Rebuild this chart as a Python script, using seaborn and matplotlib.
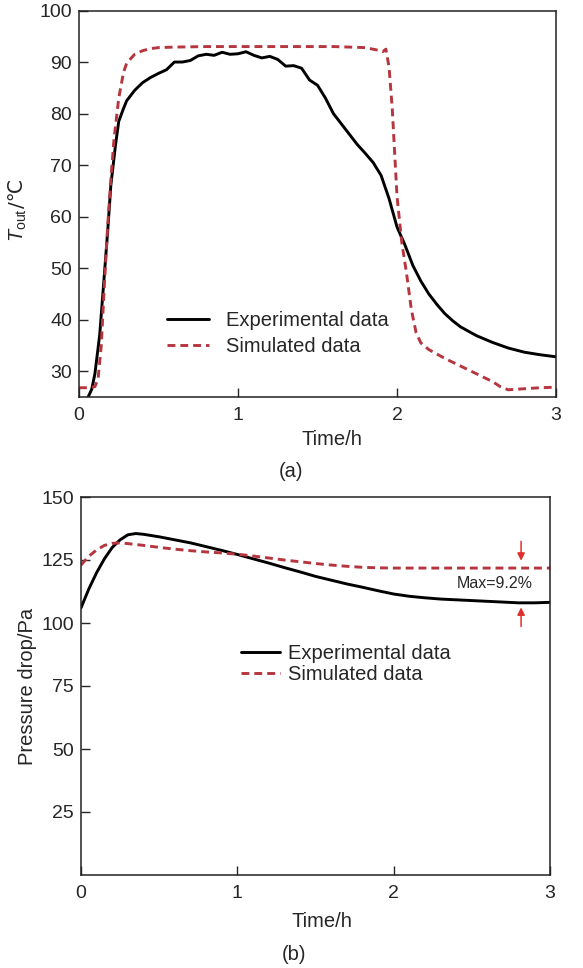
import numpy as np
import pandas as pd
import matplotlib
matplotlib.use("Agg")
import matplotlib.pyplot as plt
import seaborn as sns

# ---- Panel (a): outlet temperature ----
time_a_exp = [0.05, 0.08, 0.10, 0.13, 0.15, 0.18, 0.20, 0.23, 0.25, 0.28, 0.30, 0.35, 0.40, 0.45, 0.50,
              0.55, 0.60, 0.65, 0.70, 0.75, 0.80, 0.85, 0.90, 0.95, 1.00, 1.05, 1.10, 1.15, 1.20,
              1.25, 1.30, 1.35, 1.40, 1.45, 1.50, 1.55, 1.60, 1.65, 1.70, 1.75, 1.80, 1.85, 1.90,
              1.95, 2.00, 2.05, 2.10, 2.15, 2.20, 2.25, 2.30, 2.35, 2.40, 2.50, 2.60, 2.70, 2.80,
              2.90, 3.00]
temp_exp = [24.5, 26.5, 29.5, 37.0, 45.0, 57.0, 66.0, 74.0, 78.5, 81.0, 82.5, 84.5, 86.0, 87.0, 87.8,
            88.5, 90.0, 90.0, 90.3, 91.2, 91.5, 91.3, 91.9, 91.5, 91.6, 92.0, 91.3, 90.8, 91.1,
            90.5, 89.2, 89.3, 88.8, 86.5, 85.5, 83.0, 80.0, 78.0, 76.0, 74.0, 72.3, 70.5, 68.0,
            63.5, 58.0, 54.5, 50.5, 47.5, 45.0, 43.0, 41.2, 39.8, 38.6, 36.9, 35.6, 34.5, 33.7,
            33.2, 32.8]

time_a_sim = [0.00, 0.05, 0.10, 0.12, 0.14, 0.16, 0.18, 0.20, 0.22, 0.25, 0.28, 0.30, 0.35, 0.40,
              0.45, 0.50, 0.60, 0.80, 1.00, 1.20, 1.40, 1.60, 1.80, 1.88, 1.91, 1.93, 1.95,
              1.97, 2.00, 2.03, 2.06, 2.09, 2.12, 2.15, 2.20, 2.30, 2.40, 2.50, 2.60, 2.65,
              2.70, 2.80, 2.90, 3.00]
temp_sim = [26.8, 26.8, 27.0, 28.5, 35.0, 47.0, 58.0, 67.0, 75.0, 83.0, 88.0, 89.8, 91.5, 92.2,
            92.6, 92.8, 92.9, 93.0, 93.0, 93.0, 93.0, 93.0, 92.8, 92.3, 92.0, 92.5, 89.0,
            81.0, 64.0, 55.0, 49.0, 42.0, 37.5, 35.5, 34.2, 32.5, 31.0, 29.5, 28.0, 27.0,
            26.4, 26.6, 26.8, 26.9]

# ---- Panel (b): pressure drop ----
time_b_exp = [0.00, 0.05, 0.10, 0.15, 0.20, 0.25, 0.30, 0.35, 0.40, 0.50, 0.60, 0.70, 0.80, 0.90,
              1.00, 1.10, 1.20, 1.30, 1.40, 1.50, 1.60, 1.70, 1.80, 1.90, 2.00, 2.10, 2.20,
              2.30, 2.40, 2.50, 2.60, 2.70, 2.80, 2.90, 3.00]
press_exp = [106.0, 113.5, 120.0, 125.5, 130.0, 133.0, 135.0, 135.5, 135.2, 134.2, 133.0, 131.8, 130.3, 128.8,
             127.2, 125.5, 123.8, 122.0, 120.3, 118.5, 117.0, 115.5, 114.2, 112.8, 111.5, 110.6, 110.0,
             109.5, 109.2, 108.9, 108.6, 108.3, 108.0, 108.0, 108.2]

time_b_sim = [0.00, 0.05, 0.10, 0.15, 0.20, 0.25, 0.30, 0.40, 0.50, 0.60, 0.70, 0.80, 0.90, 1.00,
              1.10, 1.20, 1.30, 1.40, 1.50, 1.60, 1.70, 1.80, 1.90, 2.00, 2.20, 2.50, 2.80, 3.00]
press_sim = [123.0, 126.5, 129.0, 130.8, 131.6, 131.8, 131.5, 130.8, 130.0, 129.3, 128.7, 128.2, 127.8, 127.3,
             126.6, 125.8, 125.0, 124.3, 123.6, 123.0, 122.5, 122.1, 121.9, 121.8, 121.8, 121.8, 121.8, 121.8]

x_ticks = [0, 1, 2, 3]
a_yticks = [30, 40, 50, 60, 70, 80, 90, 100]
b_yticks = [25, 50, 75, 100, 125, 150]
labels = ["Experimental data", "Simulated data"]
max_dev_text = "Max=9.2%"
arrow_x = 2.815

sns.set_style("ticks")
plt.rcParams['font.family'] = ['Liberation Sans', 'DejaVu Sans']
plt.rcParams['mathtext.fontset'] = 'custom'
plt.rcParams['mathtext.it'] = 'Liberation Sans:italic'
plt.rcParams['mathtext.rm'] = 'Liberation Sans'

RED = "#b5363f"
DASH = (0, (2.7, 1.7))
LW = 2.1
fig = plt.figure(figsize=(5.83, 9.68), dpi=100)
W, H = 583.0, 968.0
ax1 = fig.add_axes([79 / W, 1 - 397 / H, 477 / W, 386.5 / H])
ax2 = fig.add_axes([81 / W, 1 - 875 / H, 469 / W, 378 / H])

df_a_exp = pd.DataFrame({"t": time_a_exp, "v": temp_exp})
df_a_sim = pd.DataFrame({"t": time_a_sim, "v": temp_sim})
df_b_exp = pd.DataFrame({"t": time_b_exp, "v": press_exp})
df_b_sim = pd.DataFrame({"t": time_b_sim, "v": press_sim})

sns.lineplot(data=df_a_exp, x="t", y="v", ax=ax1, color="black", lw=LW, label=labels[0])
sns.lineplot(data=df_a_sim, x="t", y="v", ax=ax1, color=RED, lw=LW, label=labels[1])
ax1.lines[1].set_linestyle(DASH)
sns.lineplot(data=df_b_exp, x="t", y="v", ax=ax2, color="black", lw=LW, label=labels[0])
sns.lineplot(data=df_b_sim, x="t", y="v", ax=ax2, color=RED, lw=LW, label=labels[1])
ax2.lines[1].set_linestyle(DASH)

tfs = 14
lfs = 14.5
for ax in (ax1, ax2):
    ax.set_xlim(0, 3)
    ax.set_xticks(x_ticks)
    ax.tick_params(direction="in", labelsize=tfs, length=6.5, width=1, top=False, right=False)
    ax.tick_params(axis="x", pad=7)
    ax.tick_params(axis="y", pad=5)
    ax.set_xlabel("Time/h", fontsize=lfs)
    ax.xaxis.label.set_va("center")
    for s in ax.spines.values():
        s.set_linewidth(1.1)
        s.set_color("#222222")

ax1.set_ylim(25, 100)
ax1.set_yticks(a_yticks)
ax1.set_ylabel("")
# y label built from two text pieces so that the ℃ sign falls back to DejaVu Sans
ylab_T = fig.text(0, 0, r"$T_\mathrm{out}$", fontsize=lfs, rotation=90, ha="center", va="bottom",
                  transform=ax1.transAxes)
ylab_T.set_position((-0.128, 0.40))
ylab_C = fig.text(0, 0, "/℃", fontsize=lfs, rotation=90, ha="center", va="bottom",
                  family=['DejaVu Sans'], transform=ax1.transAxes)
fig.canvas.draw()
bb = ylab_T.get_window_extent()
top_axes = ax1.transAxes.inverted().transform((0, bb.y1))[1]
ylab_C.set_position((-0.128, top_axes))
ax1.xaxis.set_label_coords(0.53, -0.111)

ax2.set_ylim(0, 150)
ax2.set_yticks(b_yticks)
ax2.set_ylabel("Pressure drop/Pa", fontsize=lfs)
ax2.yaxis.label.set_va("center")
ax2.yaxis.set_label_coords(-0.115, 0.5)
ax2.xaxis.set_label_coords(0.514, -0.124)

leg1 = ax1.legend(loc="upper left", bbox_to_anchor=(167 / W, 1 - 311 / H), bbox_transform=fig.transFigure,
                  frameon=False, fontsize=lfs, handlelength=2.1, handletextpad=0.85,
                  labelspacing=0.35, borderpad=0, borderaxespad=0)
leg2 = ax2.legend(loc="upper left", bbox_to_anchor=(241 / W, 1 - 644 / H), bbox_transform=fig.transFigure,
                  frameon=False, fontsize=lfs, handlelength=1.95, handletextpad=0.4,
                  labelspacing=0.1, borderpad=0, borderaxespad=0)
for leg in (leg1, leg2):
    for h in leg.get_lines():
        h.set_linewidth(LW)
    leg.get_lines()[1].set_linestyle(DASH)

ax2.annotate("", xy=(arrow_x, 123.6), xytext=(arrow_x, 133.5),
             arrowprops=dict(arrowstyle="-|>", color="#e0302c", lw=1.1, mutation_scale=11))
ax2.annotate("", xy=(arrow_x, 107.3), xytext=(arrow_x, 97.5),
             arrowprops=dict(arrowstyle="-|>", color="#e0302c", lw=1.1, mutation_scale=11))
ax2.text(2.405, 115.5, max_dev_text, fontsize=11.5, ha="left", va="center")

fig.text(291 / W, 1 - 472 / H, "(a)", ha="center", va="center", fontsize=lfs)
fig.text(294 / W, 1 - 955 / H, "(b)", ha="center", va="center", fontsize=lfs)

fig.savefig("out.png", dpi=100)
